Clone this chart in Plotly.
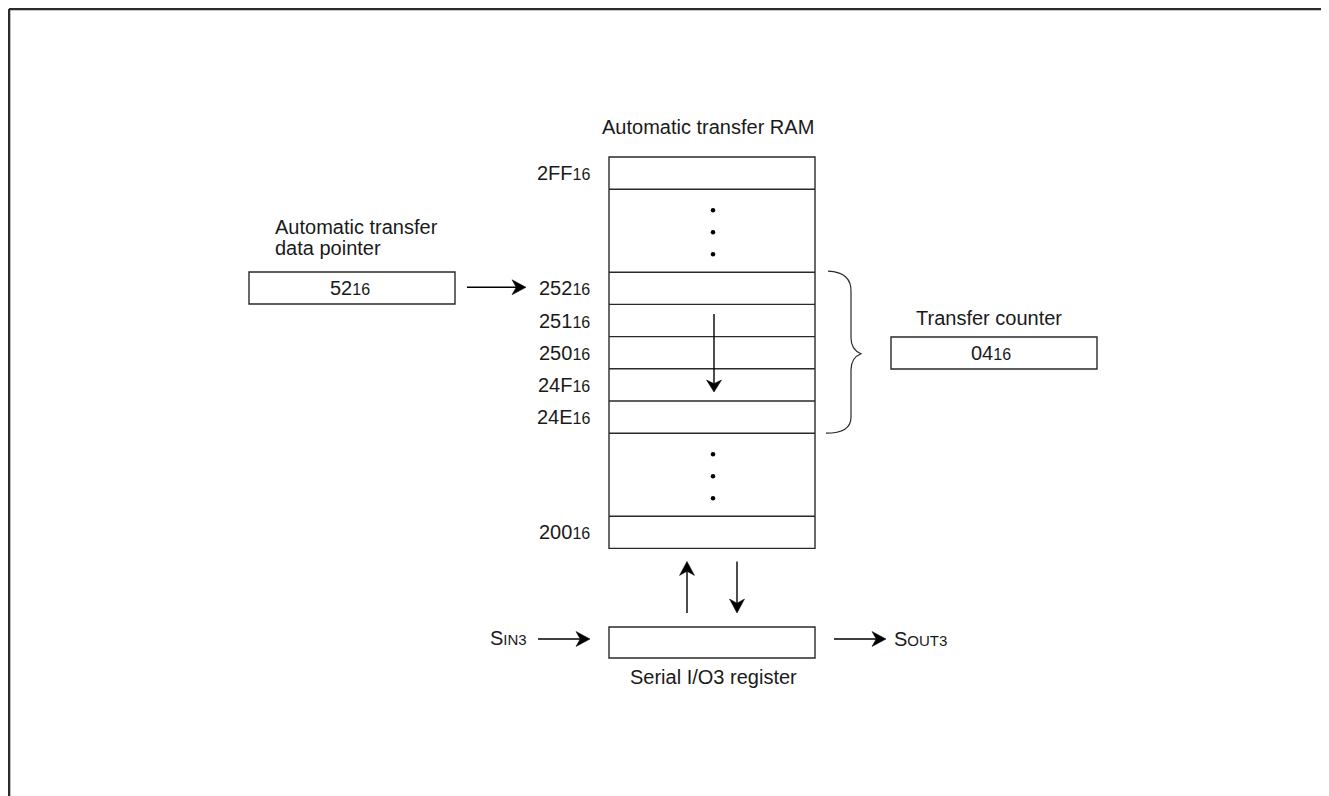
import plotly.graph_objects as go

# --- diagram content -------------------------------------------------------
ram_title = "Automatic transfer RAM"
ram_rows = ["2FF", None, "252", "251", "250", "24F", "24E", None, "200"]
pointer_title = ["Automatic transfer", "data pointer"]
pointer_value = "52"
counter_title = "Transfer counter"
counter_value = "04"
serial_title = "Serial I/O3 register"
serial_in = ("S", "IN3")
serial_out = ("S", "OUT3")
radix = "16"

# --- layout (page pixels, y grows downward) --------------------------------
W, H = 1329, 796
PAGE_PAD = 8          # default <body> margin around the plot div
FONT = "Liberation Sans, Arial, Helvetica, sans-serif"
INK = "#1a1a1a"
EDGE = "#2a2a2a"
FS, FS_SUB = 20, 16

RAM_X0, RAM_X1, RAM_TOP = 609, 815, 157
ROW_H, GAP_H = 32.2, 83
RAM_XC = (RAM_X0 + RAM_X1) / 2

shapes, notes = [], []


def hx(s):
    return f"{s}<span style='font-size:{FS_SUB}px'>{radix}</span>"


def sc(big, small):
    return f"{big}<span style='font-size:{FS_SUB - 1}px'>{small}</span>"


def label(x, y, text, xanchor="center"):
    notes.append(dict(x=x, y=y, xref="x", yref="y", text=text, showarrow=False,
                      xanchor=xanchor, yanchor="middle",
                      font=dict(family=FONT, size=FS, color=INK)))


def box(x0, y0, x1, y1):
    shapes.append(dict(type="rect", x0=x0, y0=y0, x1=x1, y1=y1,
                       line=dict(color=EDGE, width=1.4), fillcolor="white",
                       layer="below"))


def hline(x0, x1, y):
    shapes.append(dict(type="line", x0=x0, x1=x1, y0=y, y1=y,
                       line=dict(color=EDGE, width=1.4)))


def arrow(x0, y0, x1, y1, head_len=14, head_w=15):
    dx, dy = x1 - x0, y1 - y0
    n = (dx * dx + dy * dy) ** 0.5
    ux, uy = dx / n, dy / n
    px, py = -uy, ux
    bx, by = x1 - head_len * ux, y1 - head_len * uy
    nx_, ny_ = x1 - 0.7 * head_len * ux, y1 - 0.7 * head_len * uy
    c1 = (bx + px * head_w / 2, by + py * head_w / 2)
    c2 = (bx - px * head_w / 2, by - py * head_w / 2)
    shapes.append(dict(type="line", x0=x0, y0=y0, x1=nx_, y1=ny_,
                       line=dict(color="black", width=1.4)))
    shapes.append(dict(type="path",
                       path=f"M{x1},{y1} L{c1[0]},{c1[1]} L{nx_},{ny_} "
                            f"L{c2[0]},{c2[1]} Z",
                       fillcolor="black", line=dict(color="black", width=0.5)))


# page frame (top and left edges only)
shapes.append(dict(type="line", x0=9, x1=W, y0=9, y1=9,
                   line=dict(color="#2b2b2b", width=2.6)))
shapes.append(dict(type="line", x0=9, x1=9, y0=9, y1=H,
                   line=dict(color="#2b2b2b", width=2.6)))

# RAM column
label(RAM_XC - 4, 127, ram_title)
y = RAM_TOP
bounds = []
for name in ram_rows:
    h = ROW_H if name is not None else GAP_H
    bounds.append((y, y + h, name))
    y += h
box(RAM_X0, RAM_TOP, RAM_X1, y)
dot_x, dot_y = [], []
for top, bot, name in bounds:
    if top > RAM_TOP:
        hline(RAM_X0, RAM_X1, top)
    mid = (top + bot) / 2
    if name is None:
        for k in (-1, 0, 1):
            dot_x.append(RAM_XC + 1)
            dot_y.append(mid + 1.5 + 22 * k)
    else:
        label(592, mid, hx(name), xanchor="right")

row_y = {name: (t + b) / 2 for t, b, name in bounds if name}

# transfer direction inside the RAM
arrow(RAM_XC + 2, 314, RAM_XC + 2, 392, head_len=12, head_w=15)

# data pointer
label(273, 227, pointer_title[0], xanchor="left")
label(273, 248, pointer_title[1], xanchor="left")
box(249, 272, 455, 304)
label(350, row_y["252"], hx(pointer_value))
arrow(467, row_y["252"] - 1, 526, row_y["252"] - 1)

# brace + transfer counter
t_top, t_bot = bounds[2][0], bounds[6][1]
t_mid = (t_top + t_bot) / 2 + 1
shapes.append(dict(
    type="path",
    path=(f"M828,{t_top - 1} Q852,{t_top} 851,{t_top + 20} L851,{t_mid - 16} "
          f"Q851,{t_mid - 4} 861,{t_mid} Q851,{t_mid + 4} 851,{t_mid + 16} "
          f"L851,{t_bot - 16} Q851,{t_bot} 826,{t_bot}"),
    line=dict(color=EDGE, width=1.2)))
label(989, 318, counter_title)
box(891, 337, 1097, 369)
label(991, 353, hx(counter_value))

# serial I/O register
ram_bot = bounds[-1][1]
arrow(687, 613, 687, ram_bot + 13)
arrow(737, ram_bot + 13, 737, 613)
box(609, 627, 815, 658)
label(RAM_XC + 1, 677, serial_title)
arrow(538, 639, 590, 639)
label(529, 638, sc(*serial_in), xanchor="right")
arrow(834, 639, 886, 639)
label(892, 639, sc(*serial_out), xanchor="left")

fig = go.Figure()
fig.add_trace(go.Scatter(x=dot_x, y=dot_y, mode="markers", hoverinfo="skip",
                         marker=dict(size=4.5, color="black")))
fig.update_layout(
    width=W - PAGE_PAD, height=H - PAGE_PAD, autosize=False, showlegend=False,
    margin=dict(l=0, r=0, t=0, b=0),
    paper_bgcolor="white", plot_bgcolor="white",
    xaxis=dict(range=[PAGE_PAD, W], visible=False, fixedrange=True),
    yaxis=dict(range=[H, PAGE_PAD], visible=False, fixedrange=True),
    shapes=shapes, annotations=notes,
)
fig.write_html("out.html")
